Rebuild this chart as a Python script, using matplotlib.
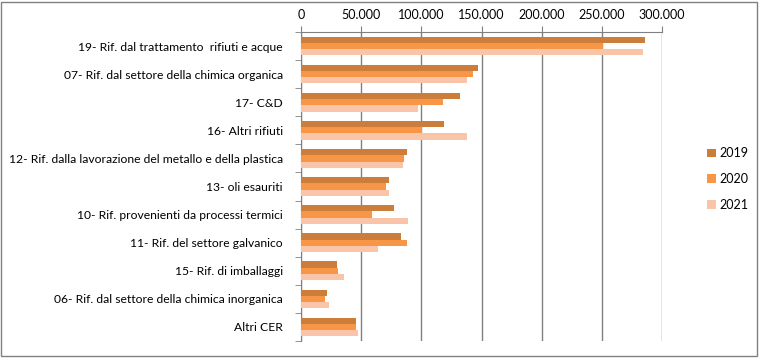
import numpy as np
import matplotlib.pyplot as plt
from matplotlib.ticker import FuncFormatter, FixedLocator
from matplotlib.patches import Rectangle

plt.rcParams['font.family'] = ['Lato', 'DejaVu Sans']

categorie = ["19- Rif. dal trattamento  rifiuti e acque",
             "07- Rif. dal settore della chimica organica",
             "17- C&D",
             "16- Altri rifiuti",
             "12- Rif. dalla lavorazione del metallo e della plastica",
             "13- oli esauriti",
             "10- Rif. provenienti da processi termici",
             "11- Rif. del settore galvanico",
             "15- Rif. di imballaggi",
             "06- Rif. dal settore della chimica inorganica",
             "Altri CER"]
anni = ["2019", "2020", "2021"]
v2019 = [285600, 147500, 132500, 119200, 88400, 73500, 77600, 83400, 30200, 21900, 46000]
v2020 = [250600, 143300, 118400, 100400, 86000, 71000, 59300, 88400, 31100, 20200, 46000]
v2021 = [283900, 138300, 97600, 138300, 85100, 73500, 89300, 64300, 36000, 23600, 47700]
colori = ["#CD7D3A", "#F79646", "#FAC4A8"]

fig = plt.figure(figsize=(7.59, 3.58), dpi=100)
ax = fig.add_axes([301/759, 1 - 341/358, 361/759, 309/358])

y = np.arange(len(categorie))
h = 0.222
for i, (vals, col, lab) in enumerate(zip([v2019, v2020, v2021], colori, anni)):
    ax.barh(y + (i - 1) * h, vals, height=h, color=col, label=lab, zorder=3)

ax.set_xlim(0, 300000)
ax.set_ylim(len(categorie) - 0.5, -0.5)
ax.set_xticks(np.arange(0, 300001, 50000))
ax.xaxis.set_major_formatter(FuncFormatter(lambda v, p: f"{int(v):,}".replace(",", ".")))
ax.xaxis.tick_top()
ax.tick_params(axis='x', colors='#808080', labelcolor='black', labelsize=9, length=4, pad=4)
ax.grid(axis='x', color='#808080', linewidth=1, zorder=0)

ax.set_yticks(y)
ax.set_yticklabels(categorie)
ax.yaxis.set_minor_locator(FixedLocator(np.arange(-0.5, len(categorie), 1)))
ax.tick_params(axis='y', which='major', length=0, labelsize=8.7, pad=13)
ax.tick_params(axis='y', which='minor', length=4, color='#808080')

for s in ['right', 'bottom']:
    ax.spines[s].set_visible(False)
for s in ['top', 'left']:
    ax.spines[s].set_color('#808080')

ax.legend(loc='center left', bbox_to_anchor=(696/759, 0.5), bbox_transform=fig.transFigure,
          frameon=False, fontsize=9, handlelength=0.7, handleheight=0.7,
          labelspacing=1.1, handletextpad=0.25)

fig.patches.append(Rectangle((1/759, 2/358), 756/759, 354/358, transform=fig.transFigure,
                             fill=False, edgecolor='#808080', linewidth=1))

fig.savefig("out.png", dpi=100)
